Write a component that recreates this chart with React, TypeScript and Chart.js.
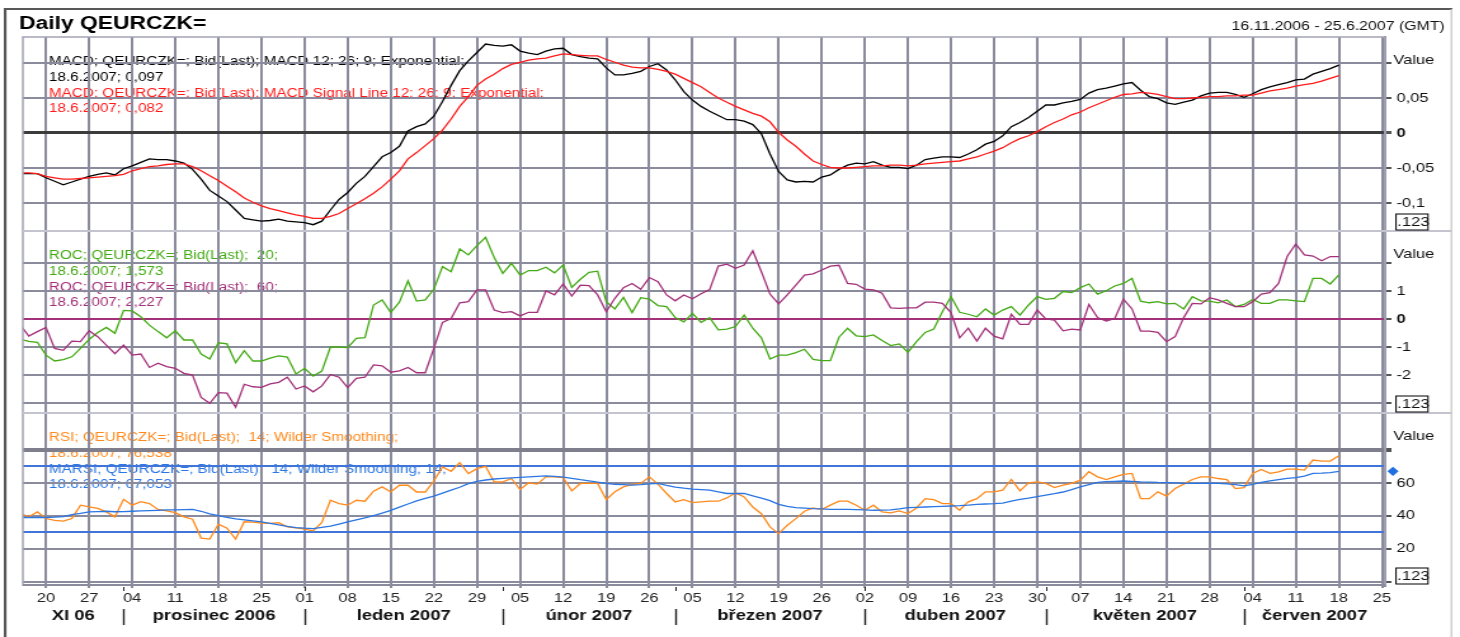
import React, { useEffect, useRef } from 'react';
import { Chart, registerables } from 'chart.js';

Chart.register(...registerables);

// ---------------- data ----------------
// x = trading-day index; day 0 = Monday 20.11.2006, 5 trading days per week
const FIRST_DAY = -3; // first value is Wed 15.11.2006
const TICK_STEP = 5;
const TICK_LABELS = ['20', '27', '04', '11', '18', '25', '01', '08', '15', '22', '29', '05', '12', '19', '26', '05', '12', '19', '26', '02', '09', '16', '23', '30', '07', '14', '21', '28', '04', '11', '18', '25'];
const MONTH_LABELS = ['XI 06', 'prosinec 2006', 'leden 2007', 'únor 2007', 'březen 2007', 'duben 2007', 'květen 2007', 'červen 2007'];
const MONTH_START_DAYS = [9, 30, 53, 73, 95, 116, 139];
const LAST_DATE = '18.6.2007';

const MACD = [
  -0.058, -0.058, -0.058, -0.064, -0.069, -0.074, -0.070, -0.066, -0.062, -0.059, -0.057, -0.060, -0.051,
  -0.047, -0.042, -0.037, -0.038, -0.038, -0.040, -0.043, -0.052, -0.066, -0.082,
  -0.090, -0.098, -0.110, -0.122, -0.124, -0.126, -0.125, -0.123, -0.126, -0.127,
  -0.128, -0.131, -0.126, -0.110, -0.095, -0.085, -0.072, -0.062, -0.048, -0.034,
  -0.028, -0.019, 0.003, 0.009, 0.013, 0.024, 0.045, 0.068, 0.089, 0.103,
  0.115, 0.127, 0.125, 0.124, 0.126, 0.117, 0.114, 0.112, 0.117, 0.120,
  0.121, 0.112, 0.109, 0.107, 0.106, 0.093, 0.083, 0.083, 0.085, 0.088,
  0.095, 0.099, 0.090, 0.076, 0.059, 0.047, 0.038, 0.031, 0.025, 0.019,
  0.019, 0.017, 0.012, -0.001, -0.030, -0.055, -0.067, -0.070, -0.069, -0.070,
  -0.063, -0.060, -0.052, -0.046, -0.043, -0.044, -0.041, -0.046, -0.049, -0.049,
  -0.051, -0.046, -0.038, -0.036, -0.034, -0.034, -0.035, -0.030, -0.024, -0.016,
  -0.012, -0.004, 0.009, 0.015, 0.022, 0.031, 0.040, 0.040, 0.043, 0.045,
  0.048, 0.057, 0.062, 0.064, 0.067, 0.070, 0.072, 0.061, 0.052, 0.049,
  0.043, 0.041, 0.044, 0.047, 0.053, 0.057, 0.058, 0.058, 0.055, 0.051,
  0.056, 0.062, 0.066, 0.069, 0.072, 0.076, 0.077, 0.084, 0.088, 0.092, 0.097,
];
const MACD_SIGNAL = [
  -0.057, -0.057, -0.058, -0.062, -0.064, -0.066, -0.066, -0.065, -0.064, -0.063, -0.062, -0.061, -0.059,
  -0.054, -0.051, -0.048, -0.047, -0.045, -0.044, -0.044, -0.048, -0.054, -0.061,
  -0.068, -0.076, -0.084, -0.093, -0.099, -0.104, -0.108, -0.111, -0.114, -0.117,
  -0.119, -0.122, -0.122, -0.119, -0.115, -0.108, -0.101, -0.094, -0.086, -0.077,
  -0.066, -0.054, -0.037, -0.028, -0.018, -0.008, 0.004, 0.020, 0.038, 0.052,
  0.068, 0.077, 0.084, 0.092, 0.098, 0.101, 0.104, 0.106, 0.107, 0.110,
  0.113, 0.112, 0.111, 0.110, 0.110, 0.105, 0.101, 0.097, 0.094, 0.093,
  0.093, 0.091, 0.088, 0.084, 0.078, 0.072, 0.066, 0.058, 0.050, 0.044,
  0.038, 0.033, 0.028, 0.024, 0.016, 0.001, -0.010, -0.019, -0.030, -0.040,
  -0.045, -0.049, -0.050, -0.050, -0.049, -0.048, -0.047, -0.047, -0.046, -0.046,
  -0.047, -0.046, -0.044, -0.043, -0.042, -0.041, -0.040, -0.037, -0.034, -0.030,
  -0.026, -0.021, -0.014, -0.008, -0.004, 0.002, 0.009, 0.015, 0.020, 0.026,
  0.030, 0.036, 0.041, 0.046, 0.051, 0.055, 0.056, 0.058, 0.057, 0.055,
  0.052, 0.049, 0.049, 0.050, 0.051, 0.052, 0.052, 0.053, 0.053, 0.054,
  0.054, 0.057, 0.060, 0.062, 0.064, 0.067, 0.069, 0.071, 0.074, 0.078, 0.082,
];
const ROC20 = [
  -0.72, -0.80, -0.83, -1.29, -1.50, -1.45, -1.35, -1.05, -0.73, -0.48, -0.30, -0.51, 0.31,
  0.29, 0.08, -0.22, -0.45, -0.67, -0.42, -0.75, -0.75, -1.25, -1.43,
  -0.85, -0.89, -1.56, -1.13, -1.50, -1.50, -1.40, -1.32, -1.36, -1.96,
  -1.76, -2.04, -1.86, -1.00, -1.00, -1.02, -0.69, -0.67, 0.50, 0.68,
  0.23, 0.60, 1.36, 0.64, 0.68, 1.06, 1.87, 1.69, 2.50, 2.29,
  2.62, 2.92, 2.20, 1.63, 1.99, 1.57, 1.73, 1.73, 1.85, 1.65,
  1.93, 1.13, 1.42, 1.67, 1.71, 0.62, 0.36, 0.77, 0.23, 0.76,
  0.71, 0.48, 0.44, 0.05, -0.10, 0.20, -0.12, 0.05, -0.39, -0.36,
  -0.27, 0.14, -0.33, -0.67, -1.43, -1.29, -1.29, -1.20, -1.08, -1.44,
  -1.49, -1.49, -0.65, -0.33, -0.60, -0.63, -0.57, -0.77, -0.95, -0.89,
  -1.19, -0.81, -0.48, -0.36, 0.26, 0.80, 0.24, 0.17, 0.08, 0.36,
  0.14, 0.32, 0.44, 0.14, 0.50, 0.80, 0.70, 0.74, 0.98, 0.94,
  1.12, 1.25, 0.89, 1.01, 1.18, 1.27, 1.45, 0.64, 0.58, 0.62,
  0.54, 0.56, 0.36, 0.80, 0.65, 0.64, 0.58, 0.68, 0.44, 0.52,
  0.70, 0.56, 0.56, 0.68, 0.68, 0.65, 0.62, 1.45, 1.45, 1.25, 1.573,
];
const ROC60 = [
  -0.20, -0.61, -0.45, -0.30, -1.05, -1.12, -0.79, -0.81, -0.42, -0.63, -0.93, -1.24, -0.93,
  -1.29, -1.25, -1.73, -1.58, -1.70, -1.76, -1.94, -2.00, -2.80, -3.01,
  -2.63, -2.65, -3.15, -2.33, -2.42, -2.44, -2.32, -2.26, -2.08, -2.50,
  -2.39, -2.60, -2.39, -1.98, -2.08, -2.45, -2.12, -2.08, -1.64, -1.67,
  -1.90, -1.85, -1.73, -1.92, -1.92, -1.05, -0.12, 0.02, 0.58, 0.62,
  1.04, 1.04, 0.32, 0.23, 0.26, 0.11, 0.24, 0.24, 1.00, 0.86,
  1.25, 0.82, 1.21, 1.19, 0.86, 0.26, 0.74, 1.12, 1.27, 1.06,
  1.48, 1.33, 0.86, 0.65, 0.86, 0.72, 0.90, 1.05, 1.89, 1.96,
  1.81, 1.93, 2.44, 1.69, 0.89, 0.54, 0.86, 1.21, 1.57, 1.61,
  1.75, 1.89, 1.92, 1.27, 1.24, 1.07, 1.04, 0.92, 0.40, 0.38,
  0.40, 0.40, 0.60, 0.60, 0.56, 0.23, -0.67, -0.33, -0.79, -0.33,
  -0.61, -0.71, 0.17, -0.19, -0.19, 0.32, 0.00, -0.04, -0.42, -0.36,
  -0.39, 0.52, 0.05, -0.07, 0.02, 0.71, 0.36, -0.43, -0.43, -0.48,
  -0.81, -0.63, 0.05, 0.56, 0.54, 0.76, 0.68, 0.56, 0.44, 0.44,
  0.62, 0.89, 0.94, 1.27, 2.23, 2.68, 2.29, 2.25, 2.08, 2.23, 2.227,
];
const RSI = [
  41.5, 39.4, 42.4, 38.4, 37.3, 36.8, 38.4, 46.5, 45.5, 44.5, 42.4, 39.4, 50.1,
  46.5, 48.6, 47.5, 43.9, 43.1, 42.0, 39.4, 38.0, 26.5, 25.9,
  35.0, 32.5, 25.9, 36.4, 36.2, 35.6, 35.4, 35.8, 33.3, 32.7,
  31.9, 30.9, 36.0, 49.5, 47.5, 46.5, 49.5, 48.9, 55.0, 57.6,
  54.5, 58.6, 58.6, 54.5, 54.5, 61.2, 69.7, 67.1, 72.4, 65.7,
  68.7, 70.1, 60.6, 60.7, 62.7, 56.0, 60.1, 59.3, 63.7, 63.7,
  63.3, 55.2, 59.7, 59.7, 59.7, 49.9, 54.6, 57.6, 59.1, 59.7,
  63.7, 59.3, 53.6, 48.5, 49.9, 48.1, 48.5, 48.9, 48.9, 50.9,
  54.0, 51.5, 45.4, 41.3, 33.3, 29.2, 34.3, 38.3, 42.8, 44.8,
  43.8, 46.5, 48.9, 48.9, 46.5, 43.4, 46.5, 42.4, 41.8, 43.0,
  41.4, 44.8, 50.5, 49.9, 47.5, 47.5, 43.4, 48.5, 50.5, 54.6,
  54.6, 55.6, 62.1, 55.2, 60.1, 60.7, 59.7, 57.2, 58.7, 59.7,
  61.7, 66.8, 63.7, 62.1, 63.7, 65.2, 65.8, 50.5, 50.5, 54.6,
  52.0, 56.6, 59.3, 62.1, 63.7, 63.7, 62.7, 62.1, 56.6, 57.2,
  65.8, 68.2, 65.8, 66.8, 68.4, 68.4, 67.8, 73.9, 73.3, 73.3, 76.538,
];
const MARSI = [
  39.0, 39.0, 39.0, 39.0, 39.2, 39.6, 40.8, 41.5, 42.4, 42.6, 42.8, 42.5, 42.6,
  42.8, 43.0, 43.2, 43.4, 43.6, 43.7, 43.8, 43.9, 42.8, 41.2,
  40.2, 39.1, 38.2, 37.6, 37.0, 36.3, 35.5, 34.6, 33.6, 32.8,
  32.5, 32.3, 33.0, 33.7, 35.0, 36.4, 37.6, 38.8, 40.2, 41.7,
  43.3, 45.3, 47.2, 49.1, 50.6, 52.0, 53.8, 55.6, 57.4, 59.6,
  61.0, 61.8, 62.4, 62.8, 63.1, 63.4, 63.7, 64.0, 64.3, 64.0,
  63.5, 62.8, 62.0, 61.3, 60.5, 59.8, 59.2, 59.0, 58.7, 59.0,
  59.4, 59.7, 58.5, 57.5, 56.8, 56.2, 55.9, 55.6, 54.6, 53.6,
  53.6, 53.6, 52.2, 50.8, 49.3, 47.0, 45.7, 45.0, 44.7, 44.4,
  44.2, 44.0, 44.0, 43.9, 43.8, 43.6, 43.4, 43.5, 43.7, 44.2,
  45.0, 45.2, 45.4, 45.6, 45.8, 46.0, 46.2, 46.5, 47.0, 47.2,
  47.4, 47.8, 49.0, 50.0, 50.8, 51.7, 52.6, 53.5, 54.5, 56.0,
  57.6, 59.0, 60.3, 60.8, 61.0, 61.2, 61.0, 60.7, 60.5, 60.3,
  60.2, 60.0, 59.8, 59.8, 59.8, 59.9, 59.7, 59.4, 59.0, 58.2,
  59.2, 60.3, 61.2, 62.0, 62.8, 63.3, 64.2, 65.8, 66.0, 66.3, 67.053,
];

const MACD_TICKS = [0.1, 0.05, 0, -0.05, -0.1];
const ROC_TICKS = [2, 1, 0, -1, -2, -3];
const RSI_TICKS = [80, 70, 60, 40, 30, 20, 0];
const RSI_LEVELS = [70, 30];

// ---------------- style ----------------
const W = 1150;
const H = 637;
const DISPLAY_W = 1460;
const FONT = '"Liberation Sans", Arial, Helvetica, sans-serif';
const GRID = '#8b8b9e';
const C_MACD = '#000000';
const C_SIGNAL = '#ff1a1a';
const C_ROC20 = '#44aa14';
const C_ROC60 = '#a3307a';
const C_RSI = '#ff8a1c';
const C_MARSI = '#2b76e2';

const fmt = (v: number, d: number) => v.toFixed(d).replace('.', ',').replace(/^-0(,0+)?$/, '0');
const pts = (arr: number[]) => arr.map((v, k) => ({ x: FIRST_DAY + k, y: v }));
const last = (arr: number[]) => arr[arr.length - 1];

const LEGENDS: { axis: string; lines: [string, string][] }[] = [
  {
    axis: 'yMacd',
    lines: [
      ['MACD; QEURCZK=; Bid(Last); MACD 12; 26; 9; Exponential;', C_MACD],
      [`${LAST_DATE}; ${fmt(last(MACD), 3)}`, C_MACD],
      ['MACD; QEURCZK=; Bid(Last); MACD Signal Line 12; 26; 9; Exponential;', C_SIGNAL],
      [`${LAST_DATE}; ${fmt(last(MACD_SIGNAL), 3)}`, C_SIGNAL],
    ],
  },
  {
    axis: 'yRoc',
    lines: [
      ['ROC; QEURCZK=; Bid(Last);  20;', C_ROC20],
      [`${LAST_DATE}; ${fmt(last(ROC20), 3)}`, C_ROC20],
      ['ROC; QEURCZK=; Bid(Last);  60;', C_ROC60],
      [`${LAST_DATE}; ${fmt(last(ROC60), 3)}`, C_ROC60],
    ],
  },
  {
    axis: 'yRsi',
    lines: [
      ['RSI; QEURCZK=; Bid(Last);  14; Wilder Smoothing;', C_RSI],
      [`${LAST_DATE}; ${fmt(last(RSI), 3)}`, C_RSI],
      ['MARSI; QEURCZK=; Bid(Last);  14; Wilder Smoothing; 14;', C_MARSI],
      [`${LAST_DATE}; ${fmt(last(MARSI), 3)}`, C_MARSI],
    ],
  },
];
const LEGEND_OFFSETS = [25, 41, 56.5, 72];

const decorPlugin = {
  id: 'decor',
  beforeDraw(chart: any) {
    const ctx = chart.ctx as CanvasRenderingContext2D;
    ctx.save();
    ctx.fillStyle = '#ffffff';
    ctx.fillRect(0, 0, chart.width, chart.height);
    // panel legends (under the grid, like the original)
    ctx.font = `12px ${FONT}`;
    ctx.textBaseline = 'middle';
    ctx.textAlign = 'left';
    for (const lg of LEGENDS) {
      const top = chart.scales[lg.axis].top;
      lg.lines.forEach(([t, c], k) => {
        ctx.fillStyle = c;
        ctx.fillText(t, 38.6, top + LEGEND_OFFSETS[k]);
      });
    }
    ctx.restore();
  },
  afterDraw(chart: any) {
    const ctx = chart.ctx as CanvasRenderingContext2D;
    const area = chart.chartArea;
    const xs = chart.scales.x;
    ctx.save();
    // outer frame
    ctx.fillStyle = '#585858';
    ctx.fillRect(3, 8, 1141, 2);
    ctx.fillRect(3, 8, 2.1, H - 8);
    ctx.fillStyle = '#c8c8c8';
    ctx.fillRect(1142.6, 9, 1.3, H - 9);

    // plot border
    ctx.strokeStyle = '#a4a4b4';
    ctx.lineWidth = 1.5;
    ctx.strokeRect(area.left, area.top, area.right - area.left, area.bottom - area.top);
    ctx.strokeStyle = GRID;
    ctx.lineWidth = 2;
    ctx.beginPath();
    ctx.moveTo(area.left, area.bottom);
    ctx.lineTo(area.right, area.bottom);
    ctx.stroke();

    // panel separators
    ctx.strokeStyle = '#c4c4ce';
    ctx.lineWidth = 2;
    for (const id of ['yRoc', 'yRsi']) {
      const y = chart.scales[id].top;
      ctx.beginPath();
      ctx.moveTo(area.left, y);
      ctx.lineTo(1143, y);
      ctx.stroke();
    }

    // title and range
    ctx.fillStyle = '#000';
    ctx.textBaseline = 'alphabetic';
    ctx.textAlign = 'left';
    ctx.font = `bold 18px ${FONT}`;
    ctx.fillText('Daily QEURCZK=', 15, 29);
    ctx.font = `12.5px ${FONT}`;
    ctx.textAlign = 'right';
    ctx.fillStyle = '#111';
    ctx.fillText('16.11.2006 - 25.6.2007 (GMT)', 1138, 29.5);

    // "Value" captions and ".123" boxes
    ctx.textAlign = 'left';
    ctx.textBaseline = 'middle';
    for (const id of ['yMacd', 'yRoc', 'yRsi']) {
      const sc = chart.scales[id];
      ctx.fillStyle = '#111';
      ctx.font = `13px ${FONT}`;
      ctx.fillText('Value', 1097.5, sc.top + 23);
      const bx = 1099.6;
      const by = sc.bottom - 17;
      ctx.strokeStyle = '#000';
      ctx.lineWidth = 1;
      ctx.strokeRect(bx, by, 25.2, 16);
      ctx.fillText('.123', bx + 1, by + 8.5);
    }

    // last value marker of MARSI
    const yr = chart.scales.yRsi;
    const dy = yr.getPixelForValue(last(MARSI));
    const dx = 1097.2;
    ctx.fillStyle = '#1f6fe0';
    ctx.beginPath();
    ctx.moveTo(dx - 4.4, dy);
    ctx.lineTo(dx, dy - 4.6);
    ctx.lineTo(dx + 4.4, dy);
    ctx.lineTo(dx, dy + 4.6);
    ctx.closePath();
    ctx.fill();

    // month separators and labels
    const bounds = [area.left, ...MONTH_START_DAYS.map((d) => xs.getPixelForValue(d)), area.right];
    ctx.strokeStyle = '#222';
    for (const d of MONTH_START_DAYS) {
      const x = Math.round(xs.getPixelForValue(d)) + 0.5;
      ctx.lineWidth = 1.4;
      ctx.beginPath();
      ctx.moveTo(x, 609);
      ctx.lineTo(x, 625);
      ctx.stroke();
      ctx.lineWidth = 1;
      ctx.beginPath();
      ctx.moveTo(x, 587);
      ctx.lineTo(x, 591);
      ctx.stroke();
    }
    ctx.fillStyle = '#111';
    ctx.font = `bold 14.5px ${FONT}`;
    ctx.textAlign = 'center';
    ctx.textBaseline = 'middle';
    MONTH_LABELS.forEach((m, k) => {
      ctx.fillText(m, (bounds[k] + bounds[k + 1]) / 2, 615.5);
    });
    ctx.restore();
  },
};

function yAxis(opts: {
  weight: number;
  min: number;
  max: number;
  ticks: number[];
  label: (v: number) => string;
  gridColor: (v: number) => string;
  gridWidth: (v: number) => number;
  tickColor?: (v: number) => string;
}) {
  return {
    type: 'linear',
    position: 'right',
    stack: 'panels',
    stackWeight: opts.weight,
    min: opts.min,
    max: opts.max,
    afterBuildTicks: (s: any) => {
      s.ticks = opts.ticks.map((v) => ({ value: v }));
    },
    afterFit: (s: any) => {
      s.width = 59;
    },
    border: { display: true, color: GRID, width: 2 },
    grid: {
      color: (c: any) => opts.gridColor(c.tick.value),
      lineWidth: (c: any) => opts.gridWidth(c.tick.value),
      tickColor: (c: any) => (opts.tickColor ? opts.tickColor(c.tick.value) : '#555'),
      tickLength: 5,
      drawTicks: true,
    },
    ticks: {
      padding: 4,
      color: '#111',
      autoSkip: false,
      font: (c: any) => ({ family: FONT, size: 13, weight: c.tick && c.tick.value === 0 ? 'bold' : 'normal' }),
      callback: (v: any) => opts.label(Number(v)),
    },
  };
}

export default function App() {
  const ref = useRef<HTMLCanvasElement>(null);
  useEffect(() => {
    const canvas = ref.current;
    if (!canvas) return;
    const line = (label: string, data: number[], color: string, axis: string, order: number) => ({
      label,
      data: pts(data),
      yAxisID: axis,
      borderColor: color,
      backgroundColor: color,
      borderWidth: 1.3,
      pointRadius: 0,
      pointHoverRadius: 0,
      tension: 0,
      order,
    });
    const chart = new Chart(canvas, {
      type: 'line',
      data: {
        datasets: [
          line('MACD', MACD, C_MACD, 'yMacd', 2),
          line('MACD Signal Line', MACD_SIGNAL, C_SIGNAL, 'yMacd', 1),
          line('ROC 20', ROC20, C_ROC20, 'yRoc', 2),
          line('ROC 60', ROC60, C_ROC60, 'yRoc', 1),
          line('RSI', RSI, C_RSI, 'yRsi', 2),
          line('MARSI', MARSI, C_MARSI, 'yRsi', 1),
        ],
      } as any,
      options: {
        responsive: false,
        maintainAspectRatio: false,
        devicePixelRatio: 1,
        animation: false,
        events: [],
        layout: { padding: { left: 18, top: 37, right: 0, bottom: 0 } },
        plugins: { legend: { display: false }, title: { display: false }, tooltip: { enabled: false } },
        scales: {
          x: {
            type: 'linear',
            position: 'bottom',
            min: -2.685,
            max: 155.365,
            afterBuildTicks: (s: any) => {
              s.ticks = TICK_LABELS.map((_, k) => ({ value: k * TICK_STEP }));
            },
            afterFit: (s: any) => {
              s.height = 52;
            },
            border: { display: false },
            grid: { color: GRID, lineWidth: 2, tickLength: 3, tickColor: GRID },
            ticks: {
              autoSkip: false,
              maxRotation: 0,
              padding: 3,
              color: '#222',
              font: { family: FONT, size: 13 },
              callback: (_v: any, i: number) => TICK_LABELS[i],
            },
          },
          yMacd: yAxis({
            weight: 194,
            min: -0.14,
            max: 0.1371,
            ticks: MACD_TICKS,
            label: (v) => (Math.abs(v - 0.1) < 1e-9 ? '' : fmt(v, Math.abs(v) < 1e-9 ? 0 : Math.abs(v * 10 - Math.round(v * 10)) < 1e-9 ? 1 : 2)),
            gridColor: (v) => (v === 0 ? '#3c3c3c' : GRID),
            gridWidth: (v) => (v === 0 ? 3 : 2),
          }),
          yRoc: yAxis({
            weight: 182,
            min: -3.357,
            max: 3.143,
            ticks: ROC_TICKS,
            label: (v) => (v === 2 || v === -3 ? '' : String(v)),
            gridColor: (v) => (v === 0 ? C_ROC60 : GRID),
            gridWidth: () => 2,
          }),
          yRsi: yAxis({
            weight: 172,
            min: -2.0,
            max: 102.5,
            ticks: RSI_TICKS,
            label: (v) => (v === 80 || v === 0 || RSI_LEVELS.includes(v) ? '' : String(v)),
            gridColor: (v) => (v === 80 ? '#7e7e8c' : RSI_LEVELS.includes(v) ? '#3f74d8' : GRID),
            gridWidth: (v) => (v === 80 ? 4 : 2),
            tickColor: (v) => (RSI_LEVELS.includes(v) ? 'rgba(0,0,0,0)' : '#555'),
          }),
        },
      } as any,
      plugins: [decorPlugin],
    });
    return () => chart.destroy();
  }, []);
  return (
    <div style={{ position: 'fixed', left: 0, top: 0, width: DISPLAY_W, height: H, background: '#fff', overflow: 'hidden' }}>
      <canvas ref={ref} width={W} height={H} style={{ width: `${DISPLAY_W}px`, height: `${H}px`, display: 'block' }} />
    </div>
  );
}
